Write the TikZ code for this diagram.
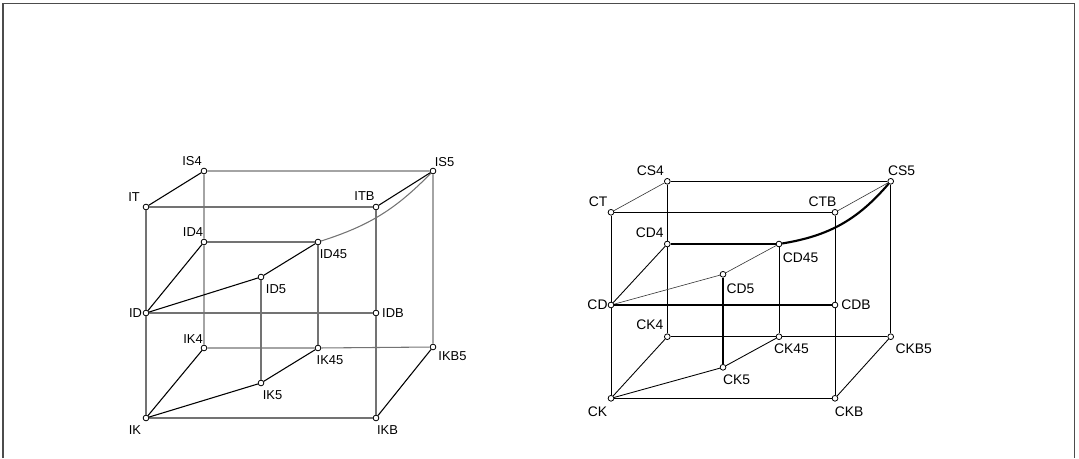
\documentclass[tikz,border=0pt]{standalone}
\usepackage{fontspec}
\setmainfont{Liberation Sans}
\usepackage{tikz}
\usetikzlibrary{arrows.meta, calc, positioning}

\begin{document}
\begin{tikzpicture}[x=0.75pt, y=-0.75pt,
    vtx/.style={circle, draw, fill=white, line width=0.6pt, inner sep=0pt, minimum size=4.3pt},
    lblI/.style={inner sep=0pt, font=\fontsize{9.7}{10}\selectfont},
    lblC/.style={inner sep=0pt, font=\fontsize{10.4}{11}\selectfont},
    edgeI/.style={black!55, line width=0.8pt},
    diagI/.style={black, line width=0.8pt},
    edgeC/.style={black, line width=0.65pt},
    thinC/.style={black!80, line width=0.45pt},
    thickC/.style={black, line width=1.6pt}]
    \useasboundingbox (0,0) rectangle (1079,458);

    % 边框
    \draw[black!70, line width=1.2pt] (3,458) -- (3,3.5) -- (1074.5,3.5) -- (1074.5,458);

    % 左边的立方体：顶点与标注
    \foreach \n/\x/\y/\dx/\dy in {IT/146/207/-12/-9.5, IS4/204/171/-12/-9.5, ITB/376/207/-11.5/-10.5,
        IS5/433/171/11.5/-8.5, ID4/204/242/-11/-10, ID45/318/242/15.5/12.5, ID5/261/277/15/12.5,
        ID/146/313/-10.5/0, IDB/376/313/17/0, IK4/204/348/-11/-9, IK45/318/348/12/12,
        IKB5/433/347/19.5/9.5, IK5/261/383/11.5/12, IK/146/418/-11/12.5, IKB/376/418/11.5/12.5} {
        \node[vtx] (\n) at (\x,\y) {};
        \node[lblI] (l\n) at ({\x+(\dx)},{\y+(\dy)}) {\n};
    }

    % 右边的立方体：顶点与标注
    \foreach \n/\x/\y/\dx/\dy in {CT/611/212.3/-13/-10.5, CS4/667.3/181.3/-17/-11, CTB/835/212.3/-12.5/-10.5,
        CS5/890.7/181.3/11/-11, CD4/667.3/244/-17.5/-11, CD45/779/244/21.5/14, CD5/723/274.3/17.5/14,
        CD/611/305/-13.5/0, CDB/835/305/21/0, CK4/667.3/336.7/-17.5/-11.7, CK45/779/336.7/12.5/12.3,
        CKB5/890.7/336.7/23/12.3, CK5/723/367.3/13.5/12.7, CK/611/398.3/-13.5/13.4, CKB/835/398.3/14/13.4} {
        \node[vtx] (\n) at (\x,\y) {};
        \node[lblC] (l\n) at ({\x+(\dx)},{\y+(\dy)}) {\n};
    }

    % 左：棱
    \draw[edgeI] (IT) -- (ITB) -- (IDB) -- (IKB) -- (IK) -- (ID) -- (IT);
    \draw[edgeI] (IS4) -- (IS5) -- (IKB5) -- (IK45) -- (IK4) -- (ID4) -- (IS4);
    \draw[edgeI] (ID) -- (IDB);
    \draw[edgeI] (ID4) -- (ID45) -- (IK45);
    \draw[edgeI] (ID5) -- (IK5);
    \draw[edgeI] (ID45) to[bend right=14] (IS5);
    \draw[diagI] (IT) -- (IS4) (ITB) -- (IS5) (ID) -- (ID4) (ID) -- (ID5) -- (ID45)
        (IK) -- (IK4) (IK) -- (IK5) -- (IK45) (IKB) -- (IKB5);

    % 右：棱
    \draw[edgeC] (CT) -- (CTB) -- (CDB) -- (CKB) -- (CK) -- (CD) -- (CT);
    \draw[edgeC] (CS4) -- (CS5) -- (CKB5) -- (CK45) -- (CK4) -- (CD4) -- (CS4);
    \draw[edgeC] (CD45) -- (CK45);
    \draw[thinC] (CT) -- (CS4) (CTB) -- (CS5) (CD) -- (CD5) -- (CD45);
    \draw[edgeC] (CD) -- (CD4) (CK) -- (CK4) (CK) -- (CK5) -- (CK45) (CKB) -- (CKB5);

    % 右：粗线
    \draw[thickC] (CD) -- (CDB) (CD4) -- (CD45) (CD5) -- (CK5);
    \draw[thickC] (CD45) to[bend right=20] (CS5);
\end{tikzpicture}
\end{document}
